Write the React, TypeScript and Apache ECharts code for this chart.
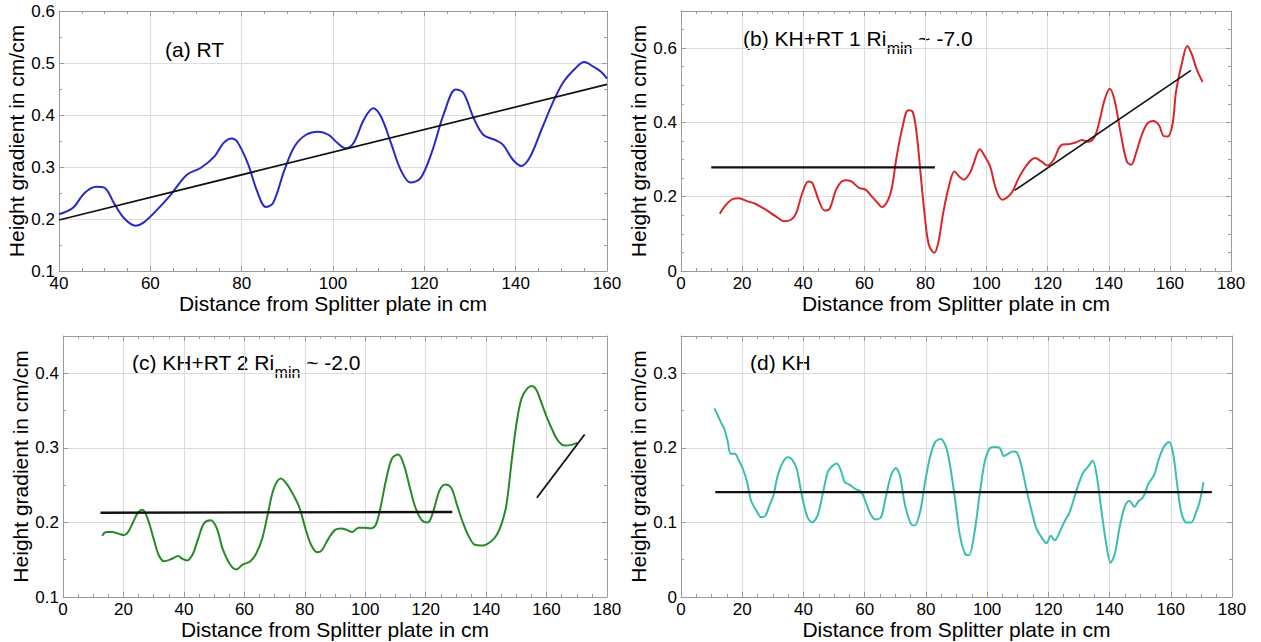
import React, { useEffect, useRef } from "react";
import * as echarts from "echarts";

const FONT = '"Liberation Sans", Arial, Helvetica, sans-serif';

const xTitle = "Distance from Splitter plate in cm";
const yTitle = "Height gradient in cm/cm";

// (a) RT
const curveA: [number, number][] = [
  [40, 0.209], [43, 0.221], [45.6, 0.25], [48.2, 0.262], [50, 0.26], [52, 0.231], [54.2, 0.202],
  [56.8, 0.187], [58.5, 0.193], [61.5, 0.218], [64.5, 0.247], [68, 0.285], [71, 0.298], [74, 0.32],
  [76, 0.346], [77.8, 0.355], [79, 0.349], [81.3, 0.308], [83.4, 0.253], [85.3, 0.223], [86.9, 0.231],
  [89.4, 0.295], [91.6, 0.34], [94.1, 0.362], [96.8, 0.368], [99, 0.362], [101, 0.346], [102.8, 0.336],
  [104.5, 0.346], [106.7, 0.39], [108.8, 0.413], [110.5, 0.397], [112.7, 0.346], [114.8, 0.295],
  [117, 0.27], [119.2, 0.279], [121.7, 0.33], [124.3, 0.403], [126.9, 0.449], [128.6, 0.442],
  [130.8, 0.394], [132.9, 0.362], [135.5, 0.352], [137.2, 0.343], [139.4, 0.314], [141.3, 0.302],
  [143.2, 0.32], [145.8, 0.375], [148.4, 0.429], [150.5, 0.464], [153.1, 0.49], [155, 0.502],
  [157, 0.493], [158.7, 0.483], [160, 0.47],
];
const fitA: [number, number][] = [[40, 0.198], [160, 0.459]];

// (b) KH+RT 1
const curveB: [number, number][] = [
  [12.7, 0.154], [14.3, 0.174], [17, 0.194], [19, 0.196], [21.6, 0.188], [24.3, 0.181], [27.7, 0.165],
  [31, 0.147], [33.7, 0.134], [36, 0.138], [37.7, 0.156], [39.7, 0.21], [41.7, 0.241], [43, 0.237],
  [45, 0.192], [47, 0.163], [48.6, 0.167], [51, 0.223], [53.7, 0.244], [55.7, 0.241], [58.4, 0.223],
  [60.4, 0.219], [62.4, 0.201], [64.4, 0.183], [65.7, 0.172], [67.8, 0.192], [69.1, 0.228],
  [70.4, 0.299], [72.4, 0.384], [74.4, 0.433], [75.8, 0.429], [77.1, 0.371], [78.4, 0.263],
  [79.8, 0.147], [81.1, 0.071], [82.9, 0.049], [84.2, 0.076], [85.8, 0.156], [87.8, 0.232],
  [89.5, 0.268], [91.1, 0.254], [92.5, 0.246], [94.5, 0.263], [95.8, 0.29], [97.8, 0.328],
  [99.2, 0.312], [101.2, 0.281], [102.5, 0.237], [103.8, 0.205], [105.2, 0.192], [106.9, 0.199],
  [108.5, 0.214], [110.5, 0.25], [113.2, 0.286], [115.9, 0.304], [117.9, 0.295], [119.9, 0.284],
  [121.9, 0.299], [124.5, 0.339], [127.2, 0.342], [129.2, 0.346], [131.2, 0.353], [133.3, 0.348],
  [135.3, 0.36], [136.9, 0.402], [138.6, 0.46], [140.3, 0.491], [141.9, 0.46], [143.9, 0.371],
  [145.9, 0.295], [147.3, 0.286], [148.9, 0.317], [150.6, 0.362], [152.6, 0.397], [154.6, 0.404],
  [156.4, 0.393], [158, 0.363], [159.3, 0.362], [160.9, 0.397], [162, 0.482], [164, 0.562],
  [165.7, 0.606], [167.1, 0.585], [168.7, 0.545], [170.7, 0.509],
];
const fitB1: [number, number][] = [[9.9, 0.279], [83.1, 0.279]];
const fitB2: [number, number][] = [[109.2, 0.217], [166.9, 0.54]];

// (c) KH+RT 2
const curveC: [number, number][] = [
  [13, 0.182], [14.3, 0.187], [16.3, 0.187], [18.3, 0.185], [20.2, 0.183], [21.5, 0.187], [23.5, 0.203],
  [24.8, 0.213], [26.3, 0.217], [28, 0.205], [30, 0.178], [31.7, 0.156], [33.5, 0.148], [35.9, 0.151],
  [38.1, 0.155], [39.5, 0.151], [41.1, 0.149], [43, 0.158], [44.7, 0.178], [46.7, 0.199], [48.9, 0.203],
  [50.9, 0.192], [52.8, 0.165], [55.4, 0.143], [57.4, 0.137], [59.3, 0.143], [62, 0.148], [63.9, 0.158],
  [65.9, 0.178], [67.8, 0.212], [69.8, 0.246], [72.1, 0.259], [74.3, 0.25], [76.6, 0.234], [78.3, 0.219],
  [80.2, 0.192], [82.2, 0.169], [84.1, 0.16], [85.7, 0.163], [87.8, 0.178], [90, 0.19], [92, 0.192],
  [93.9, 0.19], [95.6, 0.187], [97.8, 0.193], [99.8, 0.193], [101.7, 0.192], [103.4, 0.196], [105, 0.219],
  [107, 0.259], [108.9, 0.286], [110.9, 0.291], [112.8, 0.277], [114.8, 0.246], [116.7, 0.219],
  [118.7, 0.203], [120.7, 0.2], [122.3, 0.212], [124.6, 0.243], [126.5, 0.251], [128.5, 0.246],
  [130.4, 0.223], [132.4, 0.199], [134.3, 0.181], [136.3, 0.17], [138.9, 0.169], [141.5, 0.174],
  [143.5, 0.183], [145.2, 0.199], [146.7, 0.223], [148.3, 0.277], [150, 0.331], [151.7, 0.366],
  [153.7, 0.38], [155.2, 0.383], [156.6, 0.378], [157.8, 0.366], [159.8, 0.344], [161.7, 0.326], [163.7, 0.31],
  [166, 0.303], [168.2, 0.304], [170.2, 0.307],
];
const fitC1: [number, number][] = [[12.4, 0.213], [128.8, 0.214]];
const fitC2: [number, number][] = [[156.8, 0.233], [172.6, 0.318]];

// (d) KH
const curveD: [number, number][] = [
  [10.9, 0.253], [12.3, 0.241], [13.3, 0.232], [14.2, 0.225], [15.3, 0.208], [16.2, 0.192], [17.6, 0.192],
  [18.9, 0.183], [20.2, 0.172], [21.6, 0.154], [22.9, 0.129], [24.6, 0.116], [26.2, 0.107], [27.6, 0.109],
  [28.9, 0.123], [30.2, 0.136], [31.6, 0.163], [33.3, 0.181], [34.9, 0.1875], [36.2, 0.185], [37.8, 0.172],
  [39.5, 0.136], [41.3, 0.107], [42.9, 0.1], [44.6, 0.109], [46.2, 0.136], [47.9, 0.167], [49.5, 0.176],
  [50.9, 0.179], [52.2, 0.17], [53.5, 0.154], [54.9, 0.151], [56.9, 0.145], [58.9, 0.141], [60.2, 0.129],
  [61.8, 0.112], [63.5, 0.104], [65.3, 0.107], [66.8, 0.132], [68.6, 0.163], [70.2, 0.173], [71.5, 0.163],
  [73.2, 0.123], [75.1, 0.098], [76.4, 0.096], [78.2, 0.116], [79.9, 0.158], [81.5, 0.19], [83.1, 0.208],
  [84.8, 0.212], [86.6, 0.201], [87.9, 0.176], [89.5, 0.132], [91.1, 0.083], [92.8, 0.058], [94.1, 0.056],
  [95.9, 0.087], [97.5, 0.136], [99.2, 0.181], [100.8, 0.199], [102.5, 0.201], [104.1, 0.2], [105.5, 0.189],
  [106.8, 0.192], [108.4, 0.195], [109.7, 0.194], [111.2, 0.176], [112.8, 0.145], [114.5, 0.116],
  [116.1, 0.092], [118.1, 0.078], [119.4, 0.072], [120.8, 0.082], [122.1, 0.076], [123.9, 0.089],
  [125.5, 0.103], [126.8, 0.112], [128.4, 0.132], [130.1, 0.154], [131.4, 0.167], [133.2, 0.176],
  [134.5, 0.183], [135.8, 0.163], [137.4, 0.114], [139, 0.069], [140.3, 0.046], [141.7, 0.058],
  [143.4, 0.096], [145.1, 0.123], [146.5, 0.129], [148.1, 0.121], [149.4, 0.128], [151, 0.134],
  [152.7, 0.152], [154.5, 0.163], [156.1, 0.185], [157.7, 0.201], [159.4, 0.208], [160.7, 0.194],
  [162, 0.154], [163.4, 0.114], [165.1, 0.1], [166.7, 0.1], [168.3, 0.114], [169.4, 0.127], [170.7, 0.154],
];
const fitD: [number, number][] = [[11.2, 0.1406], [173.4, 0.1406]];

// axis ranges: [xMin, xMax, xInterval, yMin, yMax, yInterval, yMinorSplit]
const ranges = [
  [40, 160, 20, 0.1, 0.6, 0.1, 2],
  [0, 180, 20, 0, 0.7, 0.2, 4],
  [0, 180, 20, 0.1, 0.45, 0.1, 2],
  [0, 180, 20, 0, 0.35, 0.1, 2],
];

const grids = [
  { left: 59, top: 11, width: 548, height: 260 },
  { left: 681, top: 11, width: 550, height: 260 },
  { left: 63, top: 336, width: 544, height: 261 },
  { left: 681, top: 336, width: 551, height: 261 },
];

const AX = "#9a9a9a";

function App() {
  const ref = useRef<HTMLDivElement>(null);
  useEffect(() => {
    if (!ref.current) return;
    const chart = echarts.init(ref.current, null, { renderer: "svg" });
    const xAxes: any[] = [];
    const yAxes: any[] = [];
    const tick = { inside: true, length: 5, lineStyle: { color: AX, width: 1 } };
    ranges.forEach((r, g) => {
      const [x0, x1, xi, y0, y1, yi, ym] = r;
      xAxes.push({
        type: "value", gridIndex: g, position: "bottom", min: x0, max: x1, interval: xi,
        name: xTitle, nameLocation: "middle", nameGap: 16,
        nameTextStyle: { fontSize: 21, fontFamily: FONT, color: "#000" },
        axisLine: { show: true, onZero: false, lineStyle: { color: AX, width: 1 } },
        axisTick: tick,
        minorTick: { show: true, splitNumber: 4, length: 3, lineStyle: { color: AX } },
        axisLabel: { fontSize: 17, fontFamily: FONT, color: "#000", margin: 4 },
        splitLine: { show: true, lineStyle: { color: "#dcdcdc", width: 1 } },
      });
      yAxes.push({
        type: "value", gridIndex: g, position: "left", min: y0, max: y1, interval: yi,
        name: yTitle, nameLocation: "middle", nameGap: 28,
        nameTextStyle: { fontSize: 21, fontFamily: FONT, color: "#000" },
        axisLine: { show: true, onZero: false, lineStyle: { color: AX, width: 1 } },
        axisTick: tick,
        minorTick: { show: true, splitNumber: ym, length: 3, lineStyle: { color: AX } },
        axisLabel: { fontSize: 17, fontFamily: FONT, color: "#000", margin: 4, showMaxLabel: g === 0 },
        splitLine: { show: true, lineStyle: { color: "#dcdcdc", width: 1 } },
      });
    });
    ranges.forEach((r, g) => {
      const [x0, x1, xi, y0, y1, yi, ym] = r;
      xAxes.push({
        type: "value", gridIndex: g, position: "top", min: x0, max: x1, interval: xi,
        axisLine: { show: true, onZero: false, lineStyle: { color: AX, width: 1 } },
        axisTick: tick,
        minorTick: { show: true, splitNumber: 4, length: 3, lineStyle: { color: AX } },
        axisLabel: { show: false },
        splitLine: { show: false },
      });
      yAxes.push({
        type: "value", gridIndex: g, position: "right", min: y0, max: y1, interval: yi,
        axisLine: { show: true, onZero: false, lineStyle: { color: AX, width: 1 } },
        axisTick: tick,
        minorTick: { show: true, splitNumber: ym, length: 3, lineStyle: { color: AX } },
        axisLabel: { show: false },
        splitLine: { show: false },
      });
    });

    const line = (g: number, data: [number, number][], color: string, width: number, smooth: number | boolean) => ({
      type: "line", xAxisIndex: g, yAxisIndex: g, data, showSymbol: false, symbol: "none",
      smooth, lineStyle: { color, width }, itemStyle: { color }, silent: true,
    });

    const series = [
      line(0, curveA, "#2828c4", 2, 0.35),
      line(0, fitA, "#111", 1.7, false),
      line(1, curveB, "#d8262a", 2, 0.35),
      line(1, fitB1, "#111", 2.4, false),
      line(1, fitB2, "#111", 1.6, false),
      line(2, curveC, "#268a26", 2, 0.35),
      line(2, fitC1, "#111", 2.4, false),
      line(2, fitC2, "#111", 1.8, false),
      line(3, curveD, "#3bbdb4", 2, 0.3),
      line(3, fitD, "#111", 2.4, false),
    ];

    const richM = { fontSize: 21, fontFamily: FONT, fill: "#000", verticalAlign: "top", lineHeight: 22 };
    const richS = { fontSize: 16, fontFamily: FONT, fill: "#000", verticalAlign: "top", lineHeight: 16, padding: [12, 0, 0, 0] };
    const panelText = (x: number, y: number, text: string) => ({
      type: "text", x, y, silent: true,
      style: { text, rich: { m: richM, s: richS }, fill: "#000" },
    });

    chart.setOption({
      animation: false,
      backgroundColor: "#fff",
      grid: grids.map((g) => ({ ...g, containLabel: false })),
      xAxis: xAxes,
      yAxis: yAxes,
      series,
      graphic: [
        panelText(165, 39, "{m|(a) RT}"),
        panelText(743, 28, "{m|(b) KH+RT 1 Ri}{s|min}{m| ~ -7.0}"),
        panelText(132, 352, "{m|(c) KH+RT 2 Ri}{s|min}{m| ~ -2.0}"),
        panelText(750, 352, "{m|(d) KH}"),
      ],
    });
    return () => chart.dispose();
  }, []);
  return (
    <div
      ref={ref}
      style={{ position: "fixed", left: 0, top: 0, width: 1261, height: 642, background: "#fff" }}
    />
  );
}

export default App;
